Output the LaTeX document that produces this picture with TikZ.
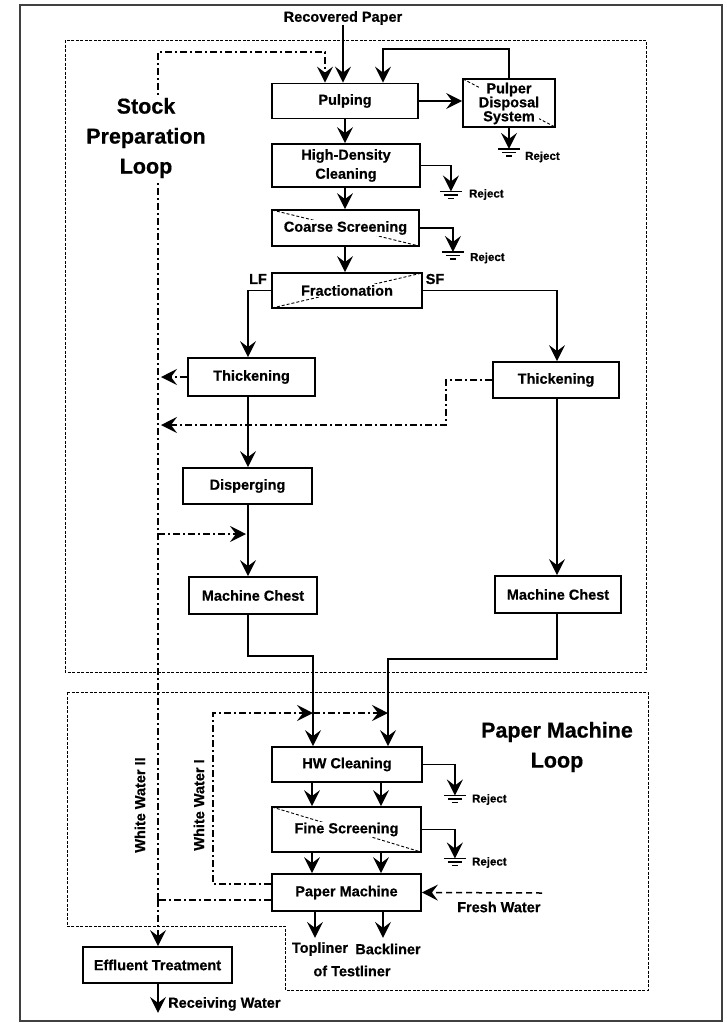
\documentclass[tikz,border=0pt]{standalone}
\usepackage{fontspec}
\setmainfont{Liberation Sans}[BoldFeatures={FakeBold=0.6}]
\usetikzlibrary{arrows.meta,calc}
\begin{document}
\begin{tikzpicture}[x=1pt,y=-1pt,
  every node/.style={font=\bfseries\fontsize{14.5}{16}\selectfont, inner sep=0pt},
  box/.style={draw, line width=1.8pt, fill=white},
  diagA/.style={path picture={\draw[line width=0.9pt, dash pattern=on 3pt off 2pt] (path picture bounding box.north west) -- (path picture bounding box.south east);}},
  diagB/.style={path picture={\draw[line width=0.9pt, dash pattern=on 3pt off 2pt] (path picture bounding box.south west) -- (path picture bounding box.north east);}},
  txt/.style={fill=white, inner sep=1pt, align=center},
  tip/.style={-{Stealth[length=16pt,width=16pt,inset=6pt]}},
  arr/.style={tip, line width=1.6pt},
  ww/.style={line width=1.5pt, dash pattern=on 7pt off 3pt on 2pt off 3pt},
  wwarr/.style={ww, tip},
  fresh/.style={tip, line width=1.5pt, dash pattern=on 6pt off 4pt},
  loopbox/.style={line width=0.9pt, dash pattern=on 3pt off 1.5pt},
  small/.style={font=\bfseries\fontsize{11.5}{13}\selectfont},
  title/.style={align=center, font=\bfseries\fontsize{21.5}{30}\selectfont},
  gnd/.pic={\draw[line width=1.2pt] (-11,0)--(11,0) (-7,3.5)--(7,3.5) (-3,7)--(3,7);}
]
\useasboundingbox (0,0) rectangle (727,1023);
\draw[line width=2pt, black!75] (20,5) rectangle (722,1021);

% loop outlines
\draw[loopbox] (65,40) rectangle (646,672);
\draw[loopbox] (67,692) -- (648,692) -- (648,990) -- (285,990) -- (285,926) -- (67,926) -- cycle;

% column coordinates
\coordinate (xM) at (345,0);
\coordinate (xL) at (248,0);
\coordinate (xR) at (557,0);
\coordinate (xA) at (313,0);
\coordinate (xB) at (388,0);
\coordinate (xA2) at (312,0);
\coordinate (xB2) at (381,0);
\coordinate (xT) at (315,0);
\coordinate (xBk) at (383,0);
\coordinate (xW) at (158,0);
\coordinate (xWa) at (161,0);
\coordinate (xD) at (325,0);
\coordinate (xRet) at (383,0);
\coordinate (xRP) at (343,0);

% boxes
\node[box, minimum width=146pt, minimum height=35pt] (pulp) at (345,101) {Pulping};
\node[box, diagA, minimum width=92pt, minimum height=48pt] (pds) at (509,103) {};
\node[txt, inner sep=0pt, font=\bfseries\fontsize{14.5}{14}\selectfont] (pdst) at (509,103.5) {Pulper\\Disposal\\System};
\draw[line width=1.8pt] ([shift={(0.9pt,-0.9pt)}]pds.north west) rectangle ([shift={(-0.9pt,0.9pt)}]pds.south east);
\node[box, align=center, font=\bfseries\fontsize{14.5}{19}\selectfont, minimum width=148pt, minimum height=43pt] (hdc) at (346,165.5) {High-Density\\Cleaning};
\node[box, diagA, minimum width=147pt, minimum height=36pt] (cs) at (345.5,228) {};
\node[txt] (cst) at (cs) {Coarse Screening};
\node[box, diagB, minimum width=150pt, minimum height=35pt] (fr) at (347,290.5) {};
\node[txt] (frt) at (fr) {Fractionation};
\node[box, minimum width=127pt, minimum height=38pt] (thL) at (251.5,377) {Thickening};
\node[box, minimum width=126pt, minimum height=36pt] (thR) at (556,380) {Thickening};
\node[box, minimum width=129pt, minimum height=36pt] (disp) at (247.5,486) {Disperging};
\node[box, minimum width=128pt, minimum height=37pt] (mcL) at (253,595.5) {Machine Chest};
\node[box, minimum width=126pt, minimum height=37pt] (mcR) at (558,594.5) {Machine Chest};
\node[box, minimum width=150pt, minimum height=35pt] (hw) at (347,764.5) {HW Cleaning};
\node[box, diagA, minimum width=149pt, minimum height=45pt] (fs) at (346.5,829.5) {};
\node[txt] (fst) at (fs) {Fine Screening};
\node[box, minimum width=149pt, minimum height=37pt] (pm) at (346.5,892.5) {Paper Machine};
\node[box, minimum width=149pt, minimum height=36pt] (eff) at (157.5,965) {Effluent Treatment};

% labels
\node (rp) at (343,18) {Recovered Paper};
\node[title] (pml) at (557,747) {Paper Machine\\Loop};
\node (lf) at (258,279) {LF};
\node (sf) at (435,279) {SF};
\node (topl) at (320,949) {Topliner};
\node (backl) at (388,949) {Backliner};
\node (testl) at (352,971) {of Testliner};
\node[anchor=west] (fw) at (457,907) {Fresh Water};
\node[anchor=west] (rw) at (168,1004) {Receiving Water};
\node[rotate=90] (ww2) at (140,805) {White Water II};
\node[rotate=90] (ww1) at (199,805) {White Water I};

% main flow
\draw[arr] (rp.south -| xRP) -- (pulp.north -| xRP);
\draw[arr] (pulp.east) -- (pds.west |- pulp.east);
\draw[arr] (pds.north) -- ++(0,-29) -| (pulp.north -| xRet);
\draw[arr] (pulp.south -| xM) -- (hdc.north -| xM);
\draw[arr] (hdc.south -| xM) -- (cs.north -| xM);
\draw[arr] (cs.south -| xM) -- (fr.north -| xM);
\draw[arr] (fr.west) -| (thL.north -| xL);
\draw[arr] (fr.east) -| (thR.north -| xR);
\draw[arr] (thL.south -| xL) -- (disp.north -| xL);
\draw[arr] (disp.south -| xL) -- (mcL.north -| xL);
\draw[arr] (thR.south -| xR) -- (mcR.north -| xR);
\draw[arr] (mcL.south -| xL) -- ++(0,41) -| (hw.north -| xA);
\draw[arr] (mcR.south -| xR) -- ++(0,45) -| (hw.north -| xB);
\draw[arr] (hw.south -| xA2) -- (fs.north -| xA2);
\draw[arr] (hw.south -| xB2) -- (fs.north -| xB2);
\draw[arr] (fs.south -| xA2) -- (pm.north -| xA2);
\draw[arr] (fs.south -| xB2) -- (pm.north -| xB2);
\draw[arr] (pm.south -| xT) -- ++(0,26);
\draw[arr] (pm.south -| xBk) -- ++(0,26);
\draw[arr] (eff.south -| xW) -- ++(0,29);

% rejects
\draw[arr] (pds.south) -- ++(0,21) coordinate (g1);
\pic at (g1) {gnd};
\node[small, anchor=west] (r1) at ($(g1)+(16,8)$) {Reject};
\draw[arr] (hdc.east) -| ++(30,26) coordinate (g2);
\pic at (g2) {gnd};
\node[small, anchor=west] (r2) at ($(g2)+(18,3)$) {Reject};
\draw[arr] (cs.east) -| ++(33,24) coordinate (g3);
\pic at (g3) {gnd};
\node[small, anchor=west] (r3) at ($(g3)+(17,6)$) {Reject};
\draw[arr] (hw.east) -| ++(32,31) coordinate (g4);
\pic at (g4) {gnd};
\node[small, anchor=west] (r4) at ($(g4)+(17,4)$) {Reject};
\draw[arr] (fs.east) -| ++(33,29) coordinate (g5);
\pic at (g5) {gnd};
\node[small, anchor=west] (r5) at ($(g5)+(17,4)$) {Reject};

% water lines
\coordinate (pmW1) at ([yshift=8.5pt]pm.west);
\coordinate (pmW2) at ([yshift=-7.5pt]pm.west);
\coordinate (wwTop) at (158,52);
\coordinate (wwA) at (313,713);
\coordinate (wwB) at (388,713);
\draw[ww] (pmW2) -- (pmW2 -| xW);
\draw[wwarr] (pmW2 -| xW) -- (eff.north -| xW);
\draw[wwarr] (pmW2 -| xW) -- (wwTop) -| (pulp.north -| xD);
\draw[wwarr] (pmW1) -| (213,713) -- (wwA);
\draw[wwarr] (wwA) -- (wwB);
\draw[wwarr] (thL.west) -- (thL.west -| xWa);
\draw[wwarr] (thR.west) -| (446,425) -- (xWa |- 0,425);
\draw[wwarr] (xW |- 0,534) -- (246,534);
\draw[fresh] (542,893) -- (pm.east);

% loop title on top of the water line
\node[title, fill=white, inner ysep=3pt] (spl) at (146,138) {Stock\\Preparation\\Loop};
\end{tikzpicture}
\end{document}
